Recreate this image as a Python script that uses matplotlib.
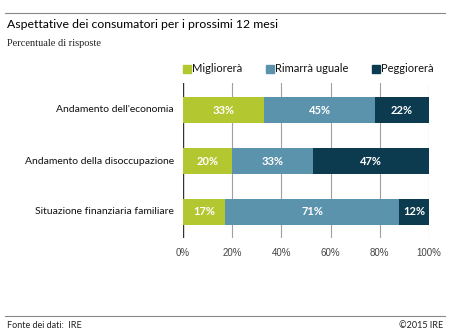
import matplotlib
matplotlib.use("Agg")
import matplotlib.pyplot as plt
from matplotlib.lines import Line2D
from matplotlib.patches import Rectangle
import numpy as np

categories = ["Andamento dell'economia",
              "Andamento della disoccupazione",
              "Situazione finanziaria familiare"]
series_names = ["Migliorerà", "Rimarrà uguale", "Peggiorerà"]
migliorera = [33, 20, 17]
rimarra = [45, 33, 71]
peggiorera = [22, 47, 12]
xticks = [0, 20, 40, 60, 80, 100]
xtick_labels = ["0%", "20%", "40%", "60%", "80%", "100%"]

colors = ["#b2c730", "#5b93ad", "#0c3a4e"]
FONT = "Lato"

W, H = 450, 332
fig = plt.figure(figsize=(W / 100, H / 100), dpi=100)

def fx(px):
    return px / W

def fy(py):
    return 1 - py / H

ax = fig.add_axes([fx(183), fy(238), fx(429) - fx(183), fy(83) - fy(238)])
ax.set_xlim(0, 100)
ax.set_ylim(2.51, -0.53)

# vertical gridlines
for t in xticks:
    ax.axvline(t, color="#333333" if t == 0 else "#a0a0a0",
               lw=1.0 if t == 0 else 0.8, zorder=0)

y = np.arange(len(categories))
series = [migliorera, rimarra, peggiorera]
left = np.zeros(len(categories))
for vals, col in zip(series, colors):
    vals = np.array(vals, dtype=float)
    ax.barh(y, vals, left=left, height=0.51, color=col, zorder=2)
    for yi, l, v in zip(y, left, vals):
        ax.text(l + v / 2, yi, f"{int(v)}%", ha="center", va="center",
                color="white", fontsize=8, fontweight="bold",
                family=FONT, zorder=3)
    left += vals

for s in ax.spines.values():
    s.set_visible(False)
ax.set_xticks([])
ax.set_yticks([])

# category labels
for yi, c in zip(y, categories):
    fig.text(fx(174), fy(110 + 51 * yi), c, ha="right", va="center",
             fontsize=7.5, family=FONT, color="#111111")

# tick labels
for t, lab in zip(xticks, xtick_labels):
    fig.text(fx(183 + 2.46 * t), fy(253), lab, ha="center", va="center",
             fontsize=7, family="Liberation Sans", color="#444444")

# legend
leg_x = [183, 266, 372]
for lx, name, col in zip(leg_x, series_names, colors):
    fig.patches.append(Rectangle((fx(lx), fy(72.5)), fx(8), 8 / H,
                                 transform=fig.transFigure, color=col))
    fig.text(fx(lx + 9), fy(68.5), name, ha="left", va="center",
             fontsize=8, family=FONT, color="#111111")

# header and footer
fig.add_artist(Line2D([fx(5), fx(445)], [fy(13), fy(13)], color="#888888",
                      lw=0.8, transform=fig.transFigure))
fig.text(fx(7), fy(25), "Aspettative dei consumatori per i prossimi 12 mesi",
         ha="left", va="center", fontsize=8.8, family=FONT, color="#000000")
fig.text(fx(7), fy(43), "Percentuale di risposte", ha="left", va="center",
         fontsize=7.5, family="Liberation Serif", color="#222222")
fig.add_artist(Line2D([fx(5), fx(445)], [fy(316), fy(316)], color="#888888",
                      lw=0.8, transform=fig.transFigure))
fig.text(fx(7), fy(325), "Fonte dei dati:  IRE", ha="left", va="center",
         fontsize=6.5, family=FONT, color="#222222")
fig.text(fx(443), fy(325), "©2015 IRE", ha="right", va="center",
         fontsize=6.5, family=FONT, color="#222222")

fig.savefig("out.png", dpi=100)
